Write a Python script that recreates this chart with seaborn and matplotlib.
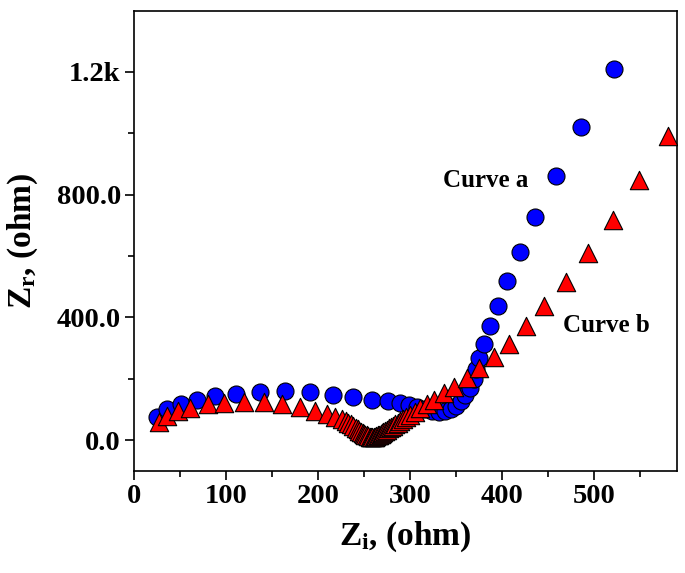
import matplotlib
matplotlib.use("Agg")
import matplotlib.pyplot as plt
import pandas as pd
import seaborn as sns
from matplotlib.ticker import FixedLocator

# ---- data ----
curve_a_x = [25, 36, 51, 68, 88, 111, 137, 164, 191, 216, 238, 259, 276, 289, 299, 308,
             316, 324, 331, 338, 344, 350, 355, 360, 365, 369, 372, 375, 380, 387, 395,
             405, 419, 436, 458, 486, 521.5]
curve_a_y = [75, 100, 118, 131, 142, 151, 156, 160, 156, 148, 140, 132, 128, 121, 114, 107,
             101, 96, 93, 94, 100, 112, 127, 146, 170, 198, 230, 266, 312, 372, 438,
             520, 614, 728, 861, 1022, 1210]

curve_b_x = [27, 36, 48, 61, 80, 98, 119, 141, 161, 180, 197, 210, 218, 226, 230, 233,
             236, 238.5, 241, 243, 245, 247, 248.5, 250, 251.5, 253, 254.5, 256, 257.5,
             259, 260.5, 262, 263.5, 265, 266.5, 268, 269.5, 271, 273, 275, 277, 279,
             281.5, 284, 286.5, 289.5, 292.5, 296, 300, 305, 311, 318, 326, 337, 348,
             362, 375, 391, 407, 426, 446, 469, 493.5, 520, 549, 580.7]
curve_b_y = [59, 79, 95, 105, 118, 121, 125, 125, 118, 108, 95, 85, 75, 69, 63, 57,
             51, 45, 40, 35, 31, 27, 24, 21, 18, 15, 13, 11, 10,
             10, 10, 11, 13, 15, 17, 20, 23, 26, 30, 34, 38, 42,
             47, 52, 57, 63, 69, 76, 83, 92, 103, 116, 130, 152, 174,
             201, 234, 272, 313, 372, 437, 516, 609, 717, 848, 991]

x_ticks = [0, 100, 200, 300, 400, 500]
x_tick_labels = ["0", "100", "200", "300", "400", "500"]
x_minor = [50, 150, 250, 350, 450, 550]
y_ticks = [0, 400, 800, 1200]
y_tick_labels = ["0.0", "400.0", "800.0", "1.2k"]
y_minor = [200, 600, 1000]
label_a = "Curve a"
label_b = "Curve b"

df_a = pd.DataFrame({"Zi": curve_a_x, "Zr": curve_a_y})
df_b = pd.DataFrame({"Zi": curve_b_x, "Zr": curve_b_y})

sns.set_style("ticks")
plt.rcParams["font.family"] = ["Liberation Serif", "DejaVu Serif"]
plt.rcParams["font.weight"] = "bold"
plt.rcParams["text.color"] = "black"
plt.rcParams["axes.labelcolor"] = "black"
plt.rcParams["xtick.color"] = "black"
plt.rcParams["ytick.color"] = "black"
plt.rcParams["mathtext.fontset"] = "custom"
plt.rcParams["mathtext.rm"] = "Liberation Serif:bold"
plt.rcParams["mathtext.bf"] = "Liberation Serif:bold"
plt.rcParams["mathtext.it"] = "Liberation Serif:bold"

fig = plt.figure(figsize=(6.85, 5.73), dpi=100)
ax = fig.add_axes([0.1956, 0.1785, 0.7927, 0.803])

sns.scatterplot(data=df_a, x="Zi", y="Zr", ax=ax, marker="o", s=150,
                color="#0000ff", edgecolor="black", linewidth=0.8, zorder=3)
sns.scatterplot(data=df_b, x="Zi", y="Zr", ax=ax, marker="^", s=175,
                color="#ff0000", edgecolor="black", linewidth=0.8, zorder=4)

ax.set_xlim(0, 590)
ax.set_ylim(-100, 1400)
ax.set_xticks(x_ticks)
ax.set_xticklabels(x_tick_labels)
ax.set_yticks(y_ticks)
ax.set_yticklabels(y_tick_labels)
ax.xaxis.set_minor_locator(FixedLocator(x_minor))
ax.yaxis.set_minor_locator(FixedLocator(y_minor))

for sp in ax.spines.values():
    sp.set_visible(True)
    sp.set_linewidth(1.2)
    sp.set_color("black")

ax.tick_params(axis="both", which="major", direction="out", length=6.5, width=1.2,
               labelsize=20.5, pad=3, colors="black")
ax.tick_params(axis="both", which="minor", direction="out", length=4.5, width=1.2,
               colors="black")
ax.tick_params(top=False, right=False, which="both")
for lab in ax.get_xticklabels() + ax.get_yticklabels():
    lab.set_fontweight("bold")
    lab.set_color("black")

ax.set_xlabel(r"Z$_{\mathrm{i}}$, (ohm)", fontsize=24, fontweight="bold", labelpad=8,
              color="black")
ax.set_ylabel(r"Z$_{\mathrm{r}}$, (ohm)", fontsize=24, fontweight="bold", labelpad=12,
              color="black")

ax.text(336, 826, label_a, fontsize=18, fontweight="bold", va="baseline", ha="left",
        color="black")
ax.text(466, 353, label_b, fontsize=18, fontweight="bold", va="baseline", ha="left",
        color="black")

ax.grid(False)
fig.savefig("out.png", dpi=100)
